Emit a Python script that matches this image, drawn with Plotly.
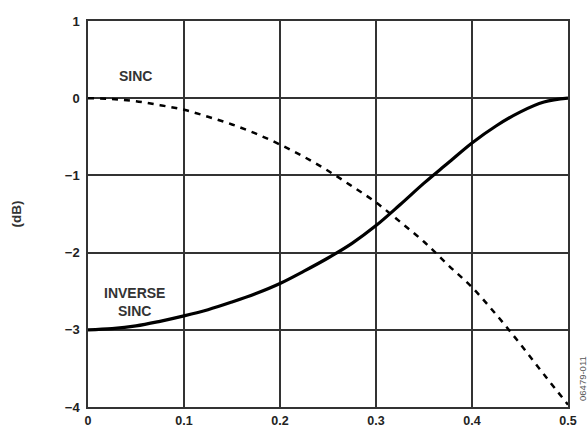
import plotly.graph_objects as go

freq = [0, 0.025, 0.05, 0.075, 0.1, 0.125, 0.15, 0.175, 0.2, 0.225, 0.25,
        0.275, 0.3, 0.325, 0.35, 0.375, 0.4, 0.425, 0.45, 0.475, 0.5]
sinc_db = [0, -0.01, -0.04, -0.09, -0.15, -0.24, -0.34, -0.46, -0.6, -0.76, -0.94,
           -1.14, -1.35, -1.6, -1.86, -2.16, -2.45, -2.8, -3.18, -3.58, -3.97]
inv_sinc_db = [-3.0, -2.985, -2.95, -2.89, -2.82, -2.74, -2.64, -2.53, -2.4, -2.24, -2.07,
               -1.88, -1.65, -1.38, -1.1, -0.84, -0.58, -0.36, -0.18, -0.05, 0.0]
x_ticks = [0, 0.1, 0.2, 0.3, 0.4, 0.5]
x_tick_text = ["0", "0.1", "0.2", "0.3", "0.4", "0.5"]
y_ticks = [1, 0, -1, -2, -3, -4]
y_tick_text = ["1", "0", "\u22121", "\u22122", "\u22123", "\u22124"]

FONT = "Liberation Sans, Arial, sans-serif"

fig = go.Figure()
fig.add_trace(go.Scatter(x=freq, y=sinc_db, mode="lines", line_shape="spline",
                         line=dict(color="black", width=2.5, dash="6px,6px"),
                         showlegend=False, hoverinfo="skip"))
fig.add_trace(go.Scatter(x=freq, y=inv_sinc_db, mode="lines", line_shape="spline",
                         line=dict(color="black", width=3.2),
                         showlegend=False, hoverinfo="skip"))

fig.add_annotation(x=0.049, y=0.29, text="<b>SINC</b>", showarrow=False,
                   font=dict(family=FONT, size=14, color="#333"))
fig.add_annotation(x=0.048, y=-2.64, text="<b>INVERSE<br>SINC</b>", showarrow=False,
                   font=dict(family=FONT, size=14, color="#333"))
fig.add_annotation(xref="paper", yref="paper", x=1.029, y=0.075, text="06479-011",
                   xanchor="center", yanchor="middle",
                   showarrow=False, textangle=-90,
                   font=dict(family=FONT, size=9.5, color="#555"))

axis_common = dict(showgrid=True, gridcolor="#333", gridwidth=1.5,
                   showline=True, linecolor="#333", linewidth=1.5, mirror=True,
                   zeroline=False, ticks="", automargin=False)

fig.update_xaxes(range=[0, 0.5], tickvals=x_ticks, ticktext=x_tick_text,
                 ticklabelstandoff=1,
                 tickfont=dict(family=FONT, size=12.5, color="#222", weight="bold"),
                 **axis_common)
fig.update_yaxes(range=[-4, 1], tickvals=y_ticks, ticktext=y_tick_text,
                 ticklabelstandoff=4,
                 tickfont=dict(family=FONT, size=13, color="#222", weight="bold"),
                 title=dict(text="<b>(dB)</b>", standoff=40,
                            font=dict(family=FONT, size=13.5, color="#333")),
                 **axis_common)

fig.update_layout(template="none", width=587, height=429,
                  plot_bgcolor="white", paper_bgcolor="white",
                  margin=dict(l=88, r=19, t=21, b=22, autoexpand=False))
fig.write_html("out.html", config={"displayModeBar": False},
               post_script="document.body.style.margin='0';document.body.style.overflow='hidden';")
